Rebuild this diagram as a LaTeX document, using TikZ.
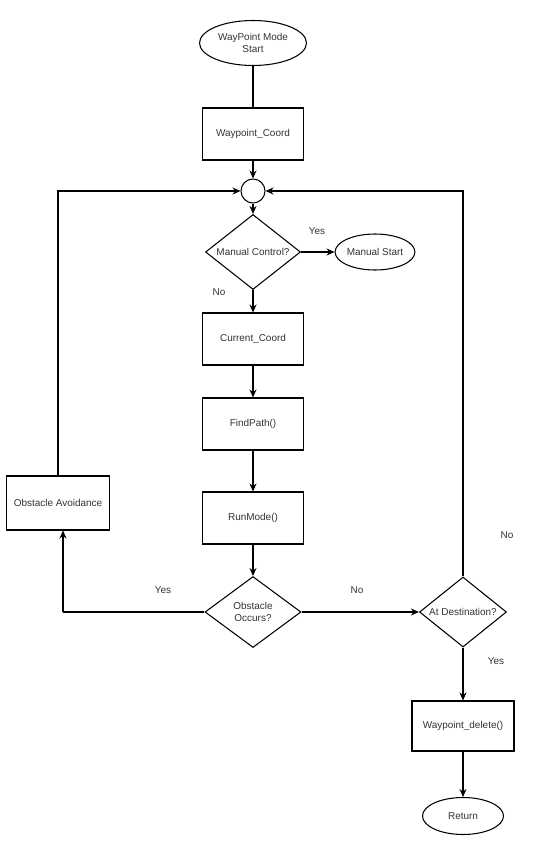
\documentclass[tikz,border=0pt]{standalone}
\usepackage{fontspec}
\setmainfont{Liberation Sans}
\usepackage{tikz}
\usetikzlibrary{arrows.meta,positioning,shapes}
\tikzset{
  stepbox/.style={draw, line width=0.9pt, minimum width=3.03cm, minimum height=1.56cm,
                  text=black!80, font=\fontsize{8.5}{10}\selectfont, align=center},
  termnode/.style={draw, ellipse, line width=0.9pt, text=black!80, inner sep=0pt,
                   font=\fontsize{8.5}{10}\selectfont, align=center},
  decnode/.style={draw, diamond, line width=0.9pt, inner sep=0pt, text=black!80,
                  font=\fontsize{8.5}{10}\selectfont, align=center},
  flowarrow/.style={-{Stealth[length=2.4mm,width=2.1mm]}, line width=0.9pt},
  flowline/.style={line width=0.9pt},
  answer/.style={text=black!80, font=\fontsize{8.5}{10}\selectfont}
}
\begin{document}
\begin{tikzpicture}[x=0.03cm, y=-0.03cm]
    \useasboundingbox (0,0) rectangle (541,841);
    \def\xL{58} \def\xM{253} \def\xR{463}

    % main column
    \node[termnode, minimum width=3.21cm, minimum height=1.35cm] (start) at (\xM,43) {WayPoint Mode\\Start};
    \node[stepbox] (wpcoord) at (\xM,134) {Waypoint\_Coord};
    \node[draw, circle, line width=0.9pt, minimum size=0.72cm, inner sep=0pt] (hub) at (\xM,191) {};
    \node[decnode, minimum width=2.85cm, minimum height=2.25cm] (manual) at (\xM,252) {\makebox[0pt]{Manual Control?}};
    \node[termnode, minimum width=2.28cm, minimum height=1.08cm] (mstart) at (375,252) {Manual Start};
    \node[stepbox] (curcoord) at (\xM,339) {Current\_Coord};
    \node[stepbox] (findpath) at (\xM,424) {FindPath()};
    \node[stepbox] (runmode) at (\xM,518) {RunMode()};
    \node[decnode, minimum width=2.88cm, minimum height=2.13cm] (obstacle) at (\xM,612) {Obstacle\\Occurs?};

    % side branches
    \node[stepbox, minimum width=3.09cm, minimum height=1.62cm] (avoid) at (\xL,503) {Obstacle Avoidance};
    \node[decnode, minimum width=2.61cm, minimum height=2.1cm] (dest) at (\xR,612) {\makebox[0pt]{At Destination?}};
    \node[stepbox, minimum width=3.06cm, minimum height=1.5cm] (wpdelete) at (\xR,726) {Waypoint\_delete()};
    \node[termnode, minimum width=2.43cm, minimum height=1.11cm] (ret) at (\xR,816) {Return};

    % labels
    \node[answer] (yesmanual) at (317,231) {Yes};
    \node[answer] (nomanual) at (219,292) {No};
    \node[answer] (yesobs) at (163,590) {Yes};
    \node[answer] (noobs) at (357,590) {No};
    \node[answer] (nodest) at (507,535) {No};
    \node[answer] (yesdest) at (496,661) {Yes};

    % connectors
    \draw[flowline] (start) -- (wpcoord);
    \draw[flowarrow] (wpcoord) -- (hub);
    \draw[flowarrow] (hub) -- (manual);
    \draw[flowarrow] (manual) -- (mstart);
    \draw[flowarrow] (manual) -- (curcoord);
    \draw[flowarrow] (curcoord) -- (findpath);
    \draw[flowarrow] (findpath) -- (runmode);
    \draw[flowarrow] (runmode) -- (obstacle);
    \coordinate (yescorner) at (63,612);
    \draw[flowline] (obstacle.west) -- (yescorner);
    \draw[flowarrow] (yescorner) -- (yescorner |- avoid.south);
    \draw[flowarrow] (avoid.north) |- (hub.west);
    \draw[flowarrow] (obstacle.east) -- (dest.west);
    \draw[flowarrow] (dest.north) |- (hub.east);
    \draw[flowarrow] (dest) -- (wpdelete);
    \draw[flowarrow] (wpdelete) -- (ret);
\end{tikzpicture}
\end{document}
